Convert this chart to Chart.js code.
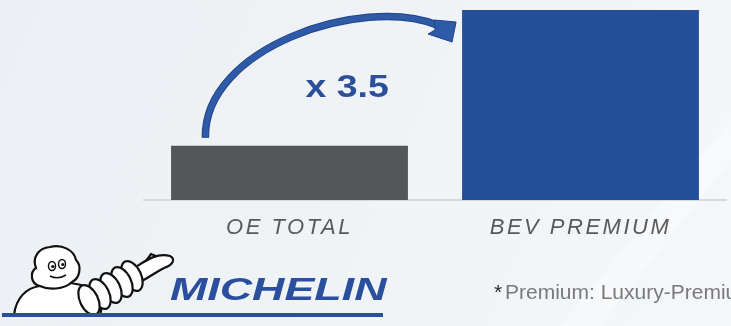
<!DOCTYPE html>
<html>
<head>
<meta charset="utf-8">
<script src="https://cdn.jsdelivr.net/npm/chart.js@4.4.1/dist/chart.umd.min.js"></script>
<style>
  html, body { margin: 0; padding: 0; background: #eef1f5; }
  #wrap { width: 731px; height: 326px; position: relative; }
</style>
</head>
<body>
<div id="wrap"><canvas id="growthChart" width="731" height="326"></canvas></div>
<script>
let categories = ["OE TOTAL", "BEV PREMIUM"];
let values = [1, 3.5];
let barColors = ["#545659", "#24509a"];
let multiplierText = "x 3.5";
let footnote = "Premium: Luxury-Premium";

// background + wider letter spacing for the axis labels
const backdrop = {
  id: "backdrop",
  beforeDraw(chart) {
    let c = chart.ctx;
    let g = c.createLinearGradient(0, 0, chart.width, chart.height);
    g.addColorStop(0, "#eceff3");
    g.addColorStop(0.6, "#f1f4f7");
    g.addColorStop(1, "#f5f7fa");
    c.save();
    c.fillStyle = g;
    c.fillRect(0, 0, chart.width, chart.height);
    // faint diagonal streak
    c.globalAlpha = 0.35;
    c.fillStyle = "#ffffff";
    c.beginPath();
    c.moveTo(560, 326); c.lineTo(731, 120); c.lineTo(731, 160); c.lineTo(600, 326);
    c.fill();
    c.restore();
    c.letterSpacing = "2.5px";
  }
};

function drawArrow(c, from, to) {
  c.save();
  c.lineCap = "butt";
  c.beginPath();
  c.moveTo(from.x, from.y);
  c.bezierCurveTo(from.x - 2, from.y - 90, to.x - 95, to.y - 36, to.x - 20, to.y - 6);
  c.strokeStyle = "#1f4489";
  c.lineWidth = 7.5;
  c.stroke();
  c.strokeStyle = "#2e5aa8";
  c.lineWidth = 5.5;
  c.stroke();
  // head
  c.beginPath();
  c.moveTo(to.x - 23, to.y - 11);
  c.lineTo(to.x - 1, to.y - 9);
  c.lineTo(to.x - 5, to.y + 11);
  c.lineTo(to.x - 29, to.y + 3);
  c.lineTo(to.x - 22, to.y - 1);
  c.closePath();
  c.fillStyle = "#2e5aa8";
  c.fill();
  c.lineWidth = 1;
  c.strokeStyle = "#1f4489";
  c.stroke();
  c.restore();
}

function drawBibendum(c) {
  c.save();
  c.lineWidth = 2.2;
  c.strokeStyle = "#111";
  c.fillStyle = "#ffffff";
  // body
  c.beginPath();
  c.moveTo(14, 315);
  c.bezierCurveTo(16, 298, 26, 288, 40, 286);
  c.bezierCurveTo(60, 280, 86, 282, 98, 294);
  c.bezierCurveTo(102, 304, 102, 310, 100, 315);
  c.closePath();
  c.fill(); c.stroke();
  // hand
  c.beginPath();
  c.moveTo(134, 268);
  c.bezierCurveTo(144, 262, 156, 252, 170, 256);
  c.bezierCurveTo(176, 259, 173, 265, 164, 268);
  c.bezierCurveTo(156, 272, 148, 278, 140, 282);
  c.closePath();
  c.fill(); c.stroke();
  c.beginPath();
  c.moveTo(146, 261); c.lineTo(151, 254); c.lineTo(156, 256);
  c.stroke();
  // arm rings
  let rings = [[132, 276], [122, 282], [111, 288], [100, 294], [89, 300]];
  rings.forEach(([x, y]) => {
    c.beginPath();
    c.ellipse(x, y, 9, 16, -0.45, 0, Math.PI * 2);
    c.fill(); c.stroke();
  });
  // head
  c.beginPath();
  c.moveTo(40, 286);
  c.bezierCurveTo(30, 284, 30, 272, 36, 268);
  c.bezierCurveTo(32, 258, 38, 248, 50, 247);
  c.bezierCurveTo(62, 244, 74, 250, 76, 260);
  c.bezierCurveTo(82, 266, 80, 278, 72, 282);
  c.bezierCurveTo(64, 290, 48, 290, 40, 286);
  c.closePath();
  c.fill(); c.stroke();
  // eyes
  c.lineWidth = 1.5;
  [[52, 266], [62, 264]].forEach(([x, y]) => {
    c.beginPath(); c.ellipse(x, y, 3.5, 4.5, 0, 0, Math.PI * 2); c.stroke();
    c.beginPath(); c.arc(x + 0.8, y + 0.5, 1.6, 0, Math.PI * 2); c.fillStyle = "#111"; c.fill();
  });
  c.beginPath();
  c.moveTo(50, 276); c.quadraticCurveTo(58, 280, 66, 275);
  c.stroke();
  c.restore();
}

const overlay = {
  id: "overlay",
  afterDraw(chart) {
    let c = chart.ctx;
    c.letterSpacing = "0px";
    let bars = chart.getDatasetMeta(0).data;
    let small = bars[0], big = bars[1];

    drawArrow(c,
      { x: small.x - small.width * 0.355, y: small.y - 8 },
      { x: big.x - big.width / 2 - 5, y: big.y + 21 });

    // multiplier label
    c.save();
    c.fillStyle = "#2a4f9b";
    c.font = "bold 32px 'Liberation Sans', Arial, sans-serif";
    c.textBaseline = "alphabetic";
    c.translate(small.x + 16, 97);
    c.scale(1.17, 1);
    c.fillText(multiplierText, 0, 0);
    c.restore();

    // logo
    drawBibendum(c);
    c.save();
    c.fillStyle = "#2a4f9e";
    c.fillRect(2, 313, 381, 4);
    c.font = "italic bold 32px 'Liberation Sans', Arial, sans-serif";
    c.translate(170, 300);
    c.scale(1.4, 1);
    c.fillText("MICHELIN", 0, 0);
    c.restore();

    // footnote
    c.save();
    c.font = "21px 'Liberation Sans', Arial, sans-serif";
    c.fillStyle = "#2b2b2b";
    c.fillText("*", 494, 299);
    c.fillStyle = "#7a7a7a";
    c.fillText(footnote, 505, 299);
    c.restore();
  }
};

new Chart(document.getElementById("growthChart").getContext("2d"), {
  type: "bar",
  data: {
    labels: categories,
    datasets: [{
      data: values,
      backgroundColor: barColors,
      borderWidth: 0,
      categoryPercentage: 1,
      barPercentage: 0.814
    }]
  },
  options: {
    responsive: false,
    animation: false,
    events: [],
    layout: { padding: { left: 144, right: 5, top: 10, bottom: 0 } },
    plugins: { legend: { display: false }, tooltip: { enabled: false } },
    scales: {
      x: {
        grid: { display: false, drawTicks: false },
        border: { display: true, color: "#d9d9d9", width: 2 },
        ticks: {
          color: "#595959",
          font: { family: "'Liberation Sans', Arial, sans-serif", size: 22, style: "italic" },
          padding: 15,
          maxRotation: 0,
          autoSkip: false
        },
        afterFit(scale) { scale.height = 126; }
      },
      y: { display: false, min: 0, max: 3.5 }
    }
  },
  plugins: [backdrop, overlay]
});
</script>
</body>
</html>
